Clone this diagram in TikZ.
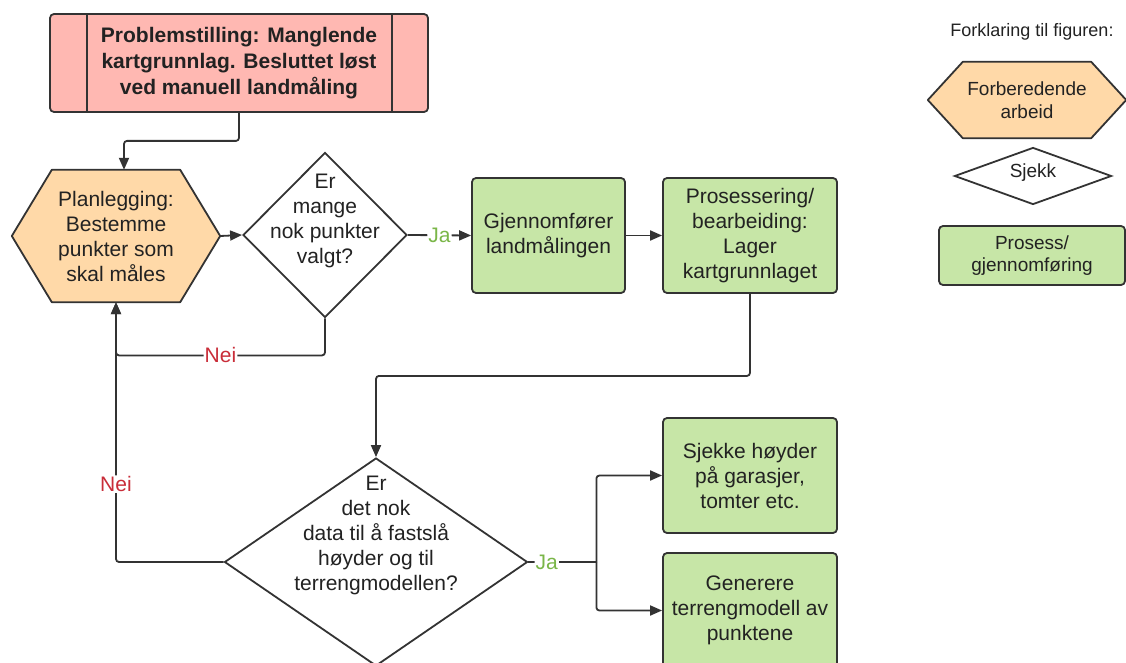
\documentclass[tikz,border=0pt]{standalone}
\usepackage{fontspec}
\setmainfont{Liberation Sans}
\usetikzlibrary{shapes.geometric,arrows.meta,calc}
\pgfdeclarelayer{background}
\pgfsetlayers{background,main}

\definecolor{ink}{HTML}{222222}
\definecolor{edgecol}{HTML}{333333}
\definecolor{probfill}{HTML}{FFB8B2}
\definecolor{prepfill}{HTML}{FFD9A8}
\definecolor{procfill}{HTML}{C7E6A7}
\definecolor{yescol}{HTML}{7AB648}
\definecolor{nocol}{HTML}{C92D39}

% hexagon outline behind a named node: #1 node name, #2 chamfer width
\newcommand{\hexoutline}[2]{%
  \begin{pgfonlayer}{background}
    \path[hexline] (#1.west) -- ([xshift=#2]#1.north west) -- ([xshift=-#2]#1.north east)
      -- (#1.east) -- ([xshift=-#2]#1.south east) -- ([xshift=#2]#1.south west) -- cycle;
  \end{pgfonlayer}}

\begin{document}
\begin{tikzpicture}[x=1pt,y=-1pt,
  txt/.style={font=\fontsize{21}{25}\selectfont, align=center, text=ink},
  smalltxt/.style={font=\fontsize{19}{22.5}\selectfont, align=center, text=ink},
  probbox/.style={font=\fontsize{21}{26}\selectfont\bfseries, align=center, text=ink,
    draw=edgecol, fill=probfill, line width=1.8pt, rounded corners=4pt, inner sep=0pt},
  procbox/.style={draw=edgecol, fill=procfill, line width=1.8pt, rounded corners=4pt, inner sep=0pt},
  checkshape/.style={shape=diamond, draw=edgecol, fill=white, line width=1.8pt, inner sep=0pt},
  hexbody/.style={inner sep=0pt},
  hexline/.style={draw=edgecol, fill=prepfill, line width=1.8pt, line join=round},
  conn/.style={draw=edgecol, line width=1.8pt, rounded corners=3pt, -{Triangle[length=12pt,width=10pt]}},
  plain/.style={draw=edgecol, line width=1.8pt, rounded corners=3pt},
  yes/.style={txt, text=yescol, fill=white, inner sep=1pt},
  no/.style={txt, text=nocol, fill=white, inner sep=1pt},
]
\useasboundingbox (0,0) rectangle (1126,663);
\clip (0,0) rectangle (1126,663);

% problem statement
\node[probbox, minimum width=378, minimum height=98] (prob) at (239,63)
  {Problemstilling: Manglende\\kartgrunnlag. Besluttet løst\\ved manuell landmåling};
\draw[edgecol, line width=1.8pt] ([xshift=38pt]prob.north west) -- ([xshift=38pt]prob.south west);
\draw[edgecol, line width=1.8pt] ([xshift=-37pt]prob.north east) -- ([xshift=-37pt]prob.south east);

% planning
\node[hexbody, txt, minimum width=208, minimum height=132] (plan) at (116,236)
  {Planlegging:\\Bestemme\\punkter som\\skal måles};
\hexoutline{plan}{40pt}

% first check
\node[checkshape, minimum width=164, minimum height=165] (d1) at (325,235) {};
\node[txt] (d1t) at (325,220.5) {Er\\mange\\nok punkter\\valgt?};

% processes
\node[procbox, txt, minimum width=153, minimum height=115] (gjen) at (548.5,235.5)
  {Gjennomfører\\landmålingen};
\node[procbox, txt, minimum width=174, minimum height=115] (pros) at (750,235.5)
  {Prosessering/\\bearbeiding:\\Lager\\kartgrunnlaget};

% second check
\node[checkshape, minimum width=303, minimum height=208] (d2) at (376,562) {};
\node[txt] (d2t) at (376,535) {Er\\det nok\\data til å fastslå\\høyder og til\\terrengmodellen?};

\node[procbox, txt, minimum width=174, minimum height=115] (sjekk) at (750,475.5)
  {Sjekke høyder\\på garasjer,\\tomter etc.};
\node[procbox, txt, minimum width=174, minimum height=115] (gener) at (750,610.5)
  {Generere\\terrengmodell av\\punktene};

% connectors
\draw[conn] (prob.south) -- ++(0,28) -| ([xshift=8pt]plan.north);
\draw[conn] (plan.east) -- (d1.west);
\draw[conn] (d1.east) -- node[yes]{Ja} (gjen.west);
\draw[conn] (gjen.east) -- (pros.west);
\draw[conn] (d1.south) -- ++(0,37) -| node[pos=0.25,no]{Nei} (plan.south);
\draw[conn] (d2.west) -| node[pos=0.65,no]{Nei} (plan.south);
\draw[conn] (pros.south) -- ++(0,82) -| (d2.north);
\draw[plain] (d2.east) -- node[pos=0.27,yes]{Ja} ++(68,0) coordinate (fork);
\draw[conn] (fork) |- (sjekk.west);
\draw[conn] (fork) |- (gener.west);

% legend
\node[smalltxt, font=\fontsize{18}{21}\selectfont] (legtitle) at (1032,32) {Forklaring til figuren:};
\node[hexbody, smalltxt, minimum width=198, minimum height=76] (legprep) at (1027,100)
  {Forberedende\\arbeid};
\hexoutline{legprep}{35pt}
\node[checkshape, minimum width=157, minimum height=57] (legcheck) at (1033,176) {};
\node[smalltxt] (legcheckt) at (1033,173) {Sjekk};
\node[procbox, smalltxt, minimum width=186, minimum height=59] (legproc) at (1032,255.5)
  {Prosess/\\gjennomføring};
\end{tikzpicture}
\end{document}
